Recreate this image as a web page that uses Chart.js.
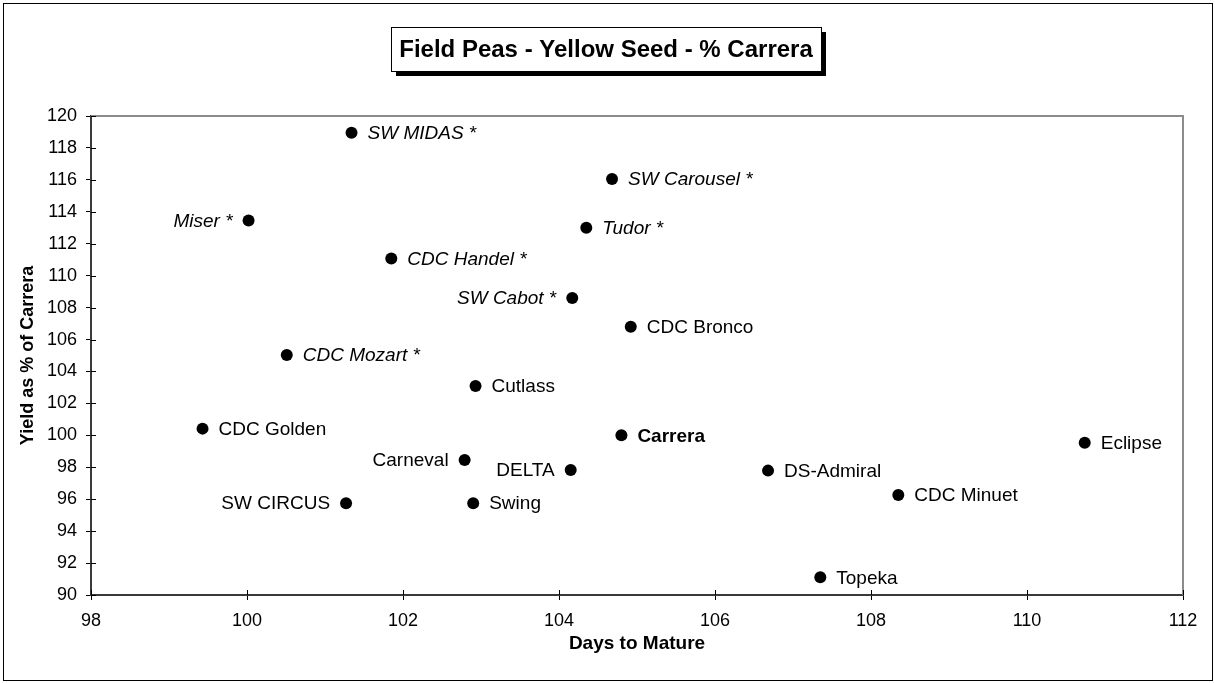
<!DOCTYPE html>
<html>
<head>
<meta charset="utf-8">
<title>Field Peas - Yellow Seed - % Carrera</title>
<script src="https://cdn.jsdelivr.net/npm/chart.js@4/dist/chart.umd.min.js"></script>
<style>
  html, body { margin: 0; padding: 0; background: #fff; }
  #wrap { width: 1215px; height: 683px; }
</style>
</head>
<body>
<div id="wrap"><canvas id="chart" width="1215" height="683"></canvas></div>
<script>
// values
const varieties = [
    'SW MIDAS *', 'SW Carousel *', 'Miser *', 'Tudor *', 'CDC Handel *',
    'SW Cabot *', 'CDC Bronco', 'CDC Mozart *', 'Cutlass', 'CDC Golden',
    'Carrera', 'Eclipse', 'Carneval', 'DELTA', 'DS-Admiral',
    'CDC Minuet', 'SW CIRCUS', 'Swing', 'Topeka'
];
const daysToMature = [
    101.34, 104.68, 100.02, 104.35, 101.85,
    104.17, 104.92, 100.51, 102.93, 99.43,
    104.80, 110.74, 102.79, 104.15, 106.68,
    108.35, 101.27, 102.90, 107.35
];
const yieldPct = [
    118.95, 116.06, 113.45, 113.00, 111.07,
    108.60, 106.80, 105.03, 103.09, 100.42,
    100.00, 99.54, 98.46, 97.83, 97.79,
    96.27, 95.75, 95.75, 91.11
];
const checkVariety = 'Carrera';
const xTicks = [98, 100, 102, 104, 106, 108, 110, 112];
const yTicks = [90, 92, 94, 96, 98, 100, 102, 104, 106, 108, 110, 112, 114, 116, 118, 120];

const chartTitle = 'Field Peas - Yellow Seed - % Carrera';
const xTitle = 'Days to Mature';
const yTitle = 'Yield as % of Carrera';

// names whose label sits on the left of the dot
const leftLabeled = ['Miser *', 'SW Cabot *', 'Carneval', 'DELTA', 'SW CIRCUS'];

const FONT = 'Arial, "Liberation Sans", Helvetica, sans-serif';

const points = daysToMature.map((d, i) => ({ x: d, y: yieldPct[i] }));

const frameAndTitle = {
    id: 'frameAndTitle',
    beforeDraw(chart) {
        const ctx = chart.ctx;
        ctx.save();
        ctx.fillStyle = '#fff';
        ctx.fillRect(0, 0, chart.width, chart.height);
        ctx.strokeStyle = '#000';
        ctx.lineWidth = 1;
        ctx.strokeRect(3.5, 3.5, 1209, 677);
        ctx.restore();
    },
    beforeDatasetsDraw(chart) {
        const ctx = chart.ctx;
        const a = chart.chartArea;
        ctx.save();
        // top and right edge of the plot area
        ctx.strokeStyle = '#8c8c8c';
        ctx.lineWidth = 2;
        ctx.beginPath();
        ctx.moveTo(a.left, a.top);
        ctx.lineTo(a.right, a.top);
        ctx.lineTo(a.right, a.bottom);
        ctx.stroke();

        // tick marks crossing into the plot
        ctx.strokeStyle = '#000';
        ctx.lineWidth = 1;
        ctx.beginPath();
        const xs = chart.scales.x;
        const ys = chart.scales.y;
        xTicks.forEach(v => {
            const px = Math.round(xs.getPixelForValue(v)) + 0.5;
            ctx.moveTo(px, a.bottom);
            ctx.lineTo(px, a.bottom - 5);
        });
        yTicks.forEach(v => {
            const py = Math.round(ys.getPixelForValue(v)) + 0.5;
            ctx.moveTo(a.left, py);
            ctx.lineTo(a.left + 5, py);
        });
        ctx.stroke();
        ctx.restore();
    },
    afterDraw(chart) {
        const ctx = chart.ctx;
        const bx = 391, by = 27, bw = 430, bh = 44;
        ctx.save();
        ctx.fillStyle = '#000';
        ctx.fillRect(bx + 5, by + 5, bw, bh);
        ctx.fillStyle = '#fff';
        ctx.fillRect(bx, by, bw, bh);
        ctx.strokeStyle = '#000';
        ctx.lineWidth = 1;
        ctx.strokeRect(bx + 0.5, by + 0.5, bw, bh);
        ctx.fillStyle = '#000';
        ctx.font = 'bold 24px ' + FONT;
        ctx.textAlign = 'center';
        ctx.textBaseline = 'middle';
        ctx.fillText(chartTitle, bx + bw / 2, by + bh / 2 + 1);
        ctx.restore();
    }
};

const pointLabels = {
    id: 'pointLabels',
    afterDatasetsDraw(chart) {
        const ctx = chart.ctx;
        const meta = chart.getDatasetMeta(0);
        ctx.save();
        ctx.fillStyle = '#000';
        ctx.textBaseline = 'middle';
        meta.data.forEach((pt, i) => {
            const name = varieties[i];
            const italic = name.includes('*') ? 'italic ' : '';
            const bold = name === checkVariety ? 'bold ' : '';
            ctx.font = italic + bold + '19px ' + FONT;
            const left = leftLabeled.includes(name);
            ctx.textAlign = left ? 'right' : 'left';
            ctx.fillText(name, pt.x + (left ? -16 : 16), pt.y + 1);
        });
        ctx.restore();
    }
};

new Chart(document.getElementById('chart'), {
    type: 'scatter',
    data: {
        datasets: [{
            label: 'Varieties',
            data: points,
            pointRadius: 6,
            pointHoverRadius: 6,
            pointBackgroundColor: '#000',
            pointBorderColor: '#000',
            pointBorderWidth: 0
        }]
    },
    options: {
        responsive: false,
        animation: false,
        devicePixelRatio: 1,
        layout: { padding: { top: 116, right: 32, bottom: 0, left: 0 } },
        plugins: {
            legend: { display: false },
            tooltip: { enabled: false },
            title: { display: false }
        },
        scales: {
            x: {
                type: 'linear',
                min: 98,
                max: 112,
                afterBuildTicks(scale) { scale.ticks = xTicks.map(v => ({ value: v })); },
                afterFit(scale) { scale.height = 88; },
                ticks: {
                    color: '#000',
                    font: { family: FONT, size: 18 },
                    padding: 10
                },
                grid: { drawOnChartArea: false, tickLength: 5, color: '#000', tickWidth: 1 },
                border: { color: '#3a3a3a', width: 2 },
                title: {
                    display: true,
                    text: xTitle,
                    color: '#000',
                    font: { family: FONT, size: 19, weight: 'bold' },
                    padding: { top: 0, bottom: 28 }
                }
            },
            y: {
                type: 'linear',
                min: 90,
                max: 120,
                afterBuildTicks(scale) { scale.ticks = yTicks.map(v => ({ value: v })); },
                afterFit(scale) { scale.width = 91; },
                ticks: {
                    color: '#000',
                    font: { family: FONT, size: 18 },
                    padding: 9
                },
                grid: { drawOnChartArea: false, tickLength: 5, color: '#000', tickWidth: 1 },
                border: { color: '#3a3a3a', width: 2 },
                title: {
                    display: true,
                    text: yTitle,
                    color: '#000',
                    font: { family: FONT, size: 18, weight: 'bold' },
                    padding: { top: 17, bottom: 0 }
                }
            }
        }
    },
    plugins: [frameAndTitle, pointLabels]
});
</script>
</body>
</html>
